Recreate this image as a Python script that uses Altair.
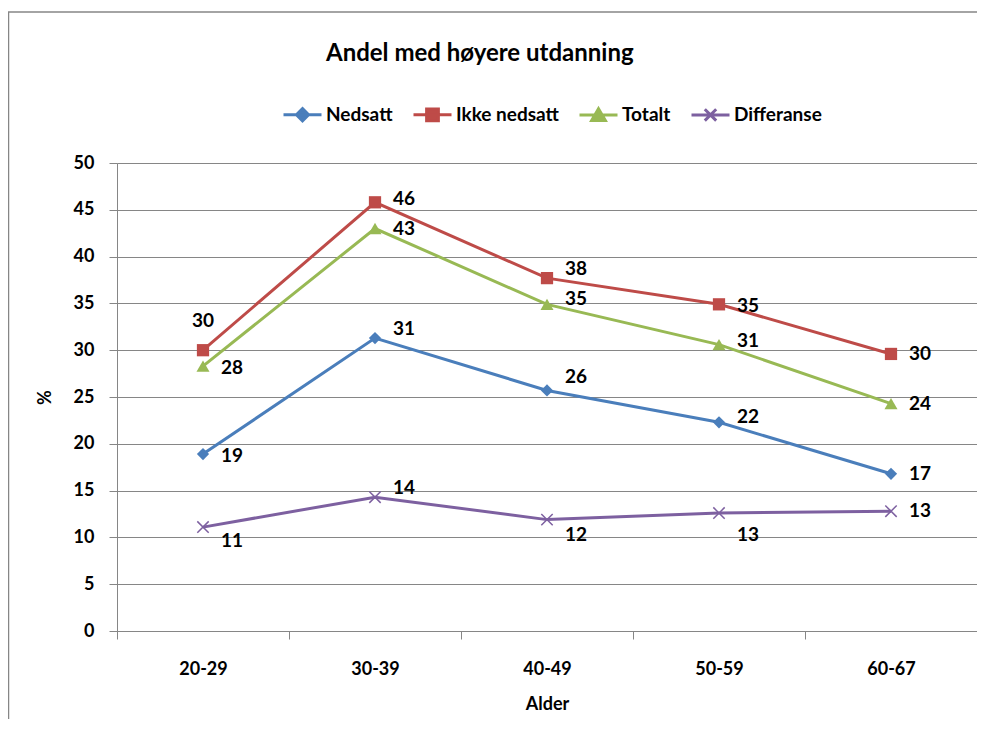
import altair as alt
import pandas as pd

# ---------------- data ----------------
categories = ["20-29", "30-39", "40-49", "50-59", "60-67"]
series_names = ["Nedsatt", "Ikke nedsatt", "Totalt", "Differanse"]
nedsatt = [18.9, 31.3, 25.7, 22.3, 16.8]
ikke_nedsatt = [30.0, 45.8, 37.7, 34.9, 29.6]
totalt = [28.3, 43.0, 34.9, 30.6, 24.3]
differanse = [11.1, 14.3, 11.9, 12.6, 12.8]
y_ticks = [0, 5, 10, 15, 20, 25, 30, 35, 40, 45, 50]

# ---------------- styles ----------------
colors = ["#4A7EBB", "#BE4B48", "#98B954", "#7D60A0"]
X_PATH = "M-1,-1L1,1M-1,1L1,-1"
shapes = ["diamond", "square", "triangle-up", X_PATH]
marker_sizes = [150, 150, 170, 130]
marker_filled = [True, True, True, False]
legend_paths = [
    "M-1,0L1,0M0,-0.32L0.32,0L0,0.32L-0.32,0Z",
    "M-1,0L1,0M-0.31,-0.31L0.31,-0.31L0.31,0.31L-0.31,0.31Z",
    "M-1,0L1,0M0,-0.33L0.36,0.28L-0.36,0.28Z",
    "M-1,0L1,0M-0.3,-0.3L0.3,0.3M-0.3,0.3L0.3,-0.3",
]
FONT = "Lato"
GRAY = "#868686"

rows = []
for name, vals in zip(series_names, [nedsatt, ikke_nedsatt, totalt, differanse]):
    for cat, v in zip(categories, vals):
        rows.append({"series": name, "age": cat, "value": v, "key": name + "|" + cat})
df = pd.DataFrame(rows)

# label placement (dx, dy, align) relative to each point
DEFAULT_OFF = (18, 0, "left")
label_off = {
    "Nedsatt|20-29": (18, 2, "left"),
    "Nedsatt|30-39": (18, -9, "left"),
    "Nedsatt|40-49": (18, -13, "left"),
    "Nedsatt|50-59": (18, -5, "left"),
    "Ikke nedsatt|20-29": (0, -29, "center"),
    "Ikke nedsatt|30-39": (18, -3, "left"),
    "Ikke nedsatt|40-49": (18, -9, "left"),
    "Ikke nedsatt|50-59": (18, 2, "left"),
    "Totalt|20-29": (18, 2, "left"),
    "Totalt|40-49": (18, -5, "left"),
    "Totalt|50-59": (18, -4, "left"),
    "Differanse|20-29": (18, 14, "left"),
    "Differanse|30-39": (18, -9, "left"),
    "Differanse|40-49": (18, 15, "left"),
    "Differanse|50-59": (18, 22, "left"),
}
groups = {}
for k in df["key"]:
    groups.setdefault(label_off.get(k, DEFAULT_OFF), []).append(k)

x_enc = alt.X(
    "age:N",
    sort=categories,
    scale=alt.Scale(type="band", paddingInner=0, paddingOuter=0),
    axis=alt.Axis(
        title="Alder",
        labelAngle=0,
        tickBand="extent",
        tickSize=8,
        tickColor=GRAY,
        domainColor=GRAY,
        labelFont=FONT,
        labelFontSize=18,
        labelFontWeight="bold",
        labelColor="black",
        labelPadding=21,
        titleFont=FONT,
        titleFontSize=18,
        titleFontWeight="bold",
        titleColor="black",
        titleBaseline="middle",
        titleY=73,
        grid=False,
    ),
)
y_enc = alt.Y(
    "value:Q",
    scale=alt.Scale(domain=[0, 50], nice=False, zero=True),
    axis=alt.Axis(
        title="%",
        values=y_ticks,
        tickSize=8,
        tickColor=GRAY,
        domainColor=GRAY,
        gridColor=GRAY,
        gridWidth=1,
        labelFont=FONT,
        labelFontSize=18,
        labelFontWeight="bold",
        labelColor="black",
        labelPadding=15,
        titleFont=FONT,
        titleFontSize=18,
        titleFontWeight="bold",
        titleColor="black",
        titleBaseline="middle",
        titleX=-72,
        titleY=234,
    ),
)

legend = alt.Legend(
    title=None,
    orient="none",
    direction="horizontal",
    legendX=165,
    legendY=-69,
    padding=0,
    symbolSize=1444,
    symbolStrokeWidth=3,
    symbolOpacity=1,
    labelFont=FONT,
    labelFontSize=19,
    labelFontWeight="bold",
    labelColor="black",
    labelOffset=3,
    columnPadding=14,
)

base = alt.Chart(df)

border_left = alt.Chart(alt.Data(values=[{"edge": "left"}])).mark_rule(
    stroke=GRAY, strokeWidth=1.5
).encode(
    x=alt.value(-108.5), x2=alt.value(-108.5), y=alt.value(-151), y2=alt.value(560)
)
border_top = alt.Chart(alt.Data(values=[{"edge": "top"}])).mark_rule(
    stroke=GRAY, strokeWidth=1.5
).encode(
    x=alt.value(-109), x2=alt.value(860), y=alt.value(-151), y2=alt.value(-151)
)

series_layers = []
for name, col in zip(series_names, colors):
    series_layers.append(
        base.transform_filter(alt.datum.series == name)
        .mark_line(strokeWidth=3, color=col)
        .encode(x=x_enc, y=y_enc)
    )
for name, col, shp, sz, fl in zip(series_names, colors, shapes, marker_sizes, marker_filled):
    series_layers.append(
        base.transform_filter(alt.datum.series == name)
        .mark_point(shape=shp, size=sz, filled=fl, color=col, opacity=1, strokeWidth=1.5)
        .encode(x=x_enc, y=y_enc)
    )

# legend-only layer (no marks drawn; legend built from the scales)
legend_layer = (
    base.transform_filter("false")
    .mark_point(filled=True, strokeWidth=3)
    .encode(
        x=x_enc,
        y=y_enc,
        color=alt.Color("series:N", scale=alt.Scale(domain=series_names, range=colors), legend=legend),
        stroke=alt.Stroke("series:N", scale=alt.Scale(domain=series_names, range=colors), legend=legend),
        shape=alt.Shape("series:N", scale=alt.Scale(domain=series_names, range=legend_paths), legend=legend),
    )
)

label_layers = []
for (dx, dy, align), keys in groups.items():
    label_layers.append(
        base.transform_filter(alt.FieldOneOfPredicate(field="key", oneOf=keys))
        .mark_text(
            dx=dx, dy=dy, align=align, baseline="middle",
            font=FONT, fontSize=19, fontWeight="bold", color="black",
        )
        .encode(x=x_enc, y=y_enc, text=alt.Text("value:Q", format=".0f"))
    )

chart = (
    alt.layer(border_left, border_top, *series_layers, legend_layer, *label_layers)
    .properties(
        width=860,
        height=468,
        title=alt.TitleParams(
            "Andel med høyere utdanning",
            font=FONT, fontSize=24, fontWeight="bold", color="black",
            anchor="start", frame="group", dx=209, dy=55, offset=0,
        ),
        autosize=alt.AutoSizeParams(type="none"),
        padding={"left": 109, "top": 155, "right": 0, "bottom": 88},
    )
    .configure_view(strokeWidth=0, stroke="transparent")
    .configure(background="white")
)

chart.save("out.html", embed_options={"renderer": "svg", "actions": False})
